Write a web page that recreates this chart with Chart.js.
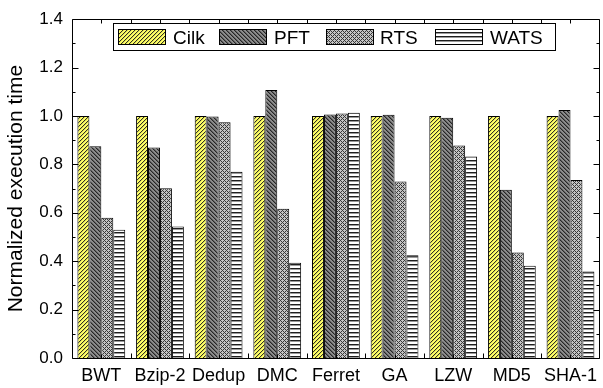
<!DOCTYPE html>
<html>
<head>
<meta charset="utf-8">
<script src="https://cdn.jsdelivr.net/npm/chart.js@4.4.1/dist/chart.umd.min.js"></script>
<style>
  html, body { margin: 0; padding: 0; background: #fff; overflow: hidden; }
  #wrap { width: 604px; height: 388px; }
</style>
</head>
<body>
<div id="wrap"><canvas id="c" width="604" height="388"></canvas></div>
<script>
// Benchmarks and normalized execution times per scheduler
const categories = ['BWT', 'Bzip-2', 'Dedup', 'DMC', 'Ferret', 'GA', 'LZW', 'MD5', 'SHA-1'];
const seriesNames = ['Cilk', 'PFT', 'RTS', 'WATS'];
const cilk = [1.0, 1.0, 1.0, 1.0, 1.0, 1.0, 1.0, 1.0, 1.0];
const pft  = [0.875, 0.870, 0.998, 1.107, 1.006, 1.005, 0.993, 0.695, 1.025];
const rts  = [0.580, 0.701, 0.974, 0.617, 1.010, 0.729, 0.878, 0.436, 0.736];
const wats = [0.530, 0.543, 0.770, 0.394, 1.013, 0.425, 0.833, 0.381, 0.357];
const yMin = 0, yMax = 1.4, yStep = 0.2, yMinorStep = 0.1;

const FONT = '"Liberation Sans", Arial, Helvetica, sans-serif';

// Fill patterns for the four series
function tile(w, h, paint) {
  const c = document.createElement('canvas');
  c.width = w; c.height = h;
  const g = c.getContext('2d');
  paint(g);
  return g.createPattern(c, 'repeat');
}
const fillCilk = tile(4, 4, g => {
  g.fillStyle = '#ffff66'; g.fillRect(0, 0, 4, 4);
  for (let x = 0; x < 4; x++) for (let y = 0; y < 4; y++) {
    const k = (x + y) % 4;
    if (k === 0) { g.fillStyle = '#303020'; g.fillRect(x, y, 1, 1); }
    else if (k === 1) { g.fillStyle = '#d8d85a'; g.fillRect(x, y, 1, 1); }
  }
});
const fillPft = tile(4, 4, g => {
  g.fillStyle = '#8c8c8c'; g.fillRect(0, 0, 4, 4);
  for (let x = 0; x < 4; x++) for (let y = 0; y < 4; y++) {
    const k = ((x - y) % 4 + 4) % 4;
    if (k === 0) { g.fillStyle = '#262626'; g.fillRect(x, y, 1, 1); }
    else if (k === 1) { g.fillStyle = '#5e5e5e'; g.fillRect(x, y, 1, 1); }
  }
});
const fillRts = tile(4, 4, g => {
  g.fillStyle = '#c4c4c4'; g.fillRect(0, 0, 4, 4);
  for (let x = 0; x < 4; x++) for (let y = 0; y < 4; y++) {
    const a = (x + y) % 4, b = ((x - y) % 4 + 4) % 4;
    if (a === 0 || b === 0) { g.fillStyle = '#383838'; g.fillRect(x, y, 1, 1); }
  }
});
const fillWats = tile(4, 4, g => {
  g.fillStyle = '#ffffff'; g.fillRect(0, 0, 4, 4);
  g.fillStyle = '#1e1e1e'; g.fillRect(0, 0, 4, 1);
  g.fillStyle = '#9a9a9a'; g.fillRect(0, 1, 4, 1);
});
const fills = [fillCilk, fillPft, fillRts, fillWats];
const values = [cilk, pft, rts, wats];

// Frame with inward ticks on all four sides
const framePlugin = {
  id: 'frame',
  afterDatasetsDraw(chart) {
    const { ctx, chartArea: a, scales: { x, y } } = chart;
    ctx.save();
    ctx.strokeStyle = '#000';
    ctx.lineWidth = 1;
    ctx.beginPath();
    const L = Math.round(a.left) + 0.5, R = Math.round(a.right) - 0.5;
    const T = Math.round(a.top) + 0.5, B = Math.round(a.bottom) + 0.5;
    ctx.moveTo(L, T); ctx.lineTo(R, T);
    ctx.moveTo(L, B); ctx.lineTo(R, B);
    ctx.moveTo(L, T); ctx.lineTo(L, B);
    ctx.moveTo(R, T); ctx.lineTo(R, B);
    // y ticks: major every step, minor between
    const n = Math.round((yMax - yMin) / yMinorStep);
    for (let i = 0; i <= n; i++) {
      const v = yMin + i * yMinorStep;
      const py = Math.round(y.getPixelForValue(v)) + 0.5;
      const len = (i % 2 === 0) ? 6 : 3;
      ctx.moveTo(L, py); ctx.lineTo(L + len, py);
      ctx.moveTo(R, py); ctx.lineTo(R - len, py);
    }
    // x ticks at category centres and boundaries
    for (let i = 0; i < categories.length; i++) {
      const cx = Math.round(x.getPixelForValue(i)) + 0.5;
      ctx.moveTo(cx, B); ctx.lineTo(cx, B - 4);
      ctx.moveTo(cx, T); ctx.lineTo(cx, T + 4);
      if (i > 0) {
        const bx = Math.round((x.getPixelForValue(i) + x.getPixelForValue(i - 1)) / 2) + 0.5;
        ctx.moveTo(bx, B); ctx.lineTo(bx, B - 5);
        ctx.moveTo(bx, T); ctx.lineTo(bx, T + 5);
      }
    }
    ctx.stroke();
    ctx.restore();
  }
};

// Boxed legend inside the plot area
const boxLegendPlugin = {
  id: 'boxLegend',
  afterDraw(chart) {
    const { ctx } = chart;
    const bx = 113, by = 23, bw = 442, bh = 27;
    const swX = [118, 219, 326, 435];
    const txX = [173, 274, 380, 490];
    ctx.save();
    ctx.fillStyle = '#fff';
    ctx.fillRect(bx, by, bw, bh);
    ctx.strokeStyle = '#000';
    ctx.lineWidth = 1;
    ctx.strokeRect(bx + 0.5, by + 0.5, bw, bh);
    chart.data.datasets.forEach((ds, i) => {
      ctx.fillStyle = ds.backgroundColor;
      ctx.fillRect(swX[i], 29, 47, 15);
      ctx.strokeRect(swX[i] + 0.5, 29.5, 47, 15);
      ctx.fillStyle = '#000';
      ctx.font = '19px ' + FONT;
      ctx.textBaseline = 'alphabetic';
      ctx.textAlign = 'left';
      ctx.fillText(ds.label, txX[i], 44);
    });
    ctx.restore();
  }
};

new Chart(document.getElementById('c'), {
  type: 'bar',
  data: {
    labels: categories,
    datasets: seriesNames.map((name, i) => ({
      label: name,
      data: values[i],
      backgroundColor: fills[i],
      borderColor: '#000',
      borderWidth: 1,
      borderSkipped: 'bottom',
      categoryPercentage: 0.815,
      barPercentage: 1.0
    }))
  },
  options: {
    responsive: false,
    animation: false,
    devicePixelRatio: 1,
    layout: { padding: { top: 13, right: 0, left: 0, bottom: 0 } },
    plugins: { legend: { display: false }, tooltip: { enabled: false } },
    scales: {
      x: {
        grid: { display: false, drawTicks: false },
        border: { display: false },
        ticks: {
          color: '#000', padding: 7, maxRotation: 0, autoSkip: false,
          font: { family: FONT, size: 18 }
        },
        afterFit(s) { s.height = 30; }
      },
      y: {
        min: yMin, max: yMax,
        grid: { display: false, drawTicks: false },
        border: { display: false },
        ticks: {
          stepSize: yStep, color: '#000', padding: 9,
          font: { family: FONT, size: 17 },
          callback: v => Number(v).toFixed(1)
        },
        title: {
          display: true, text: 'Normalized execution time', color: '#000',
          font: { family: FONT, size: 21 }, padding: { top: 4, bottom: 0 }
        },
        afterFit(s) { s.width = 72; }
      }
    }
  },
  plugins: [framePlugin, boxLegendPlugin]
});
</script>
</body>
</html>
